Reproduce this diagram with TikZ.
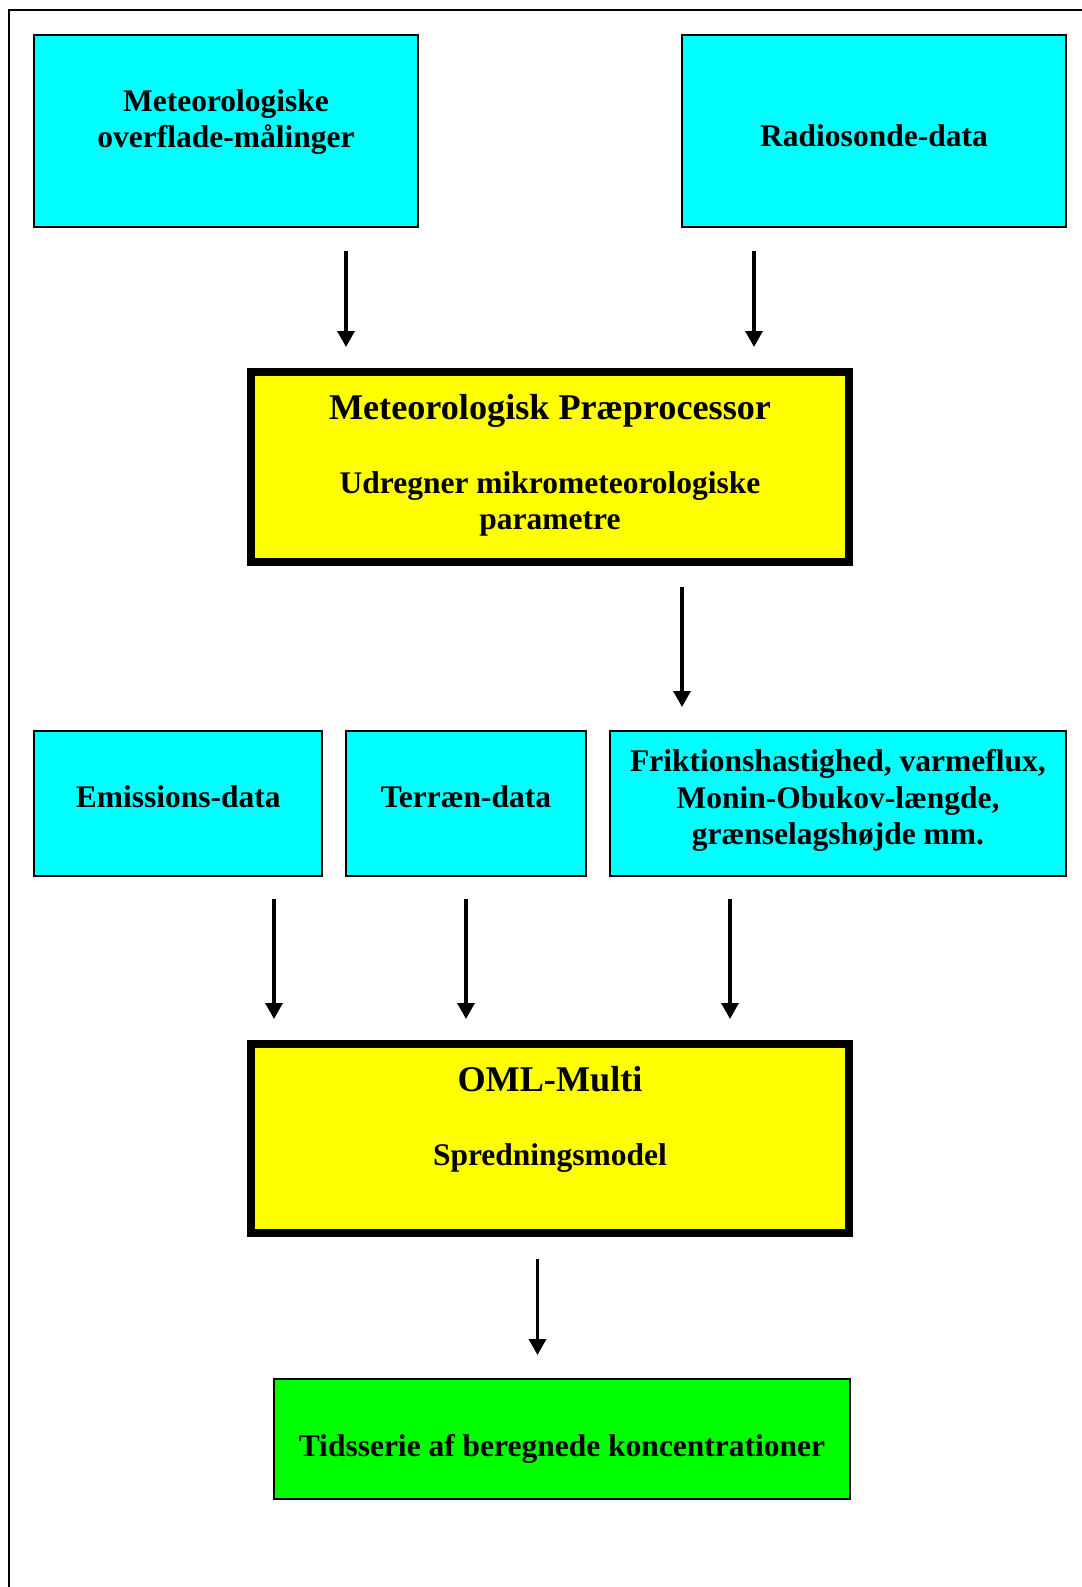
\documentclass[tikz,border=0pt]{standalone}
\usepackage{fontspec}
\setmainfont{Liberation Serif}
\usetikzlibrary{arrows.meta}
\definecolor{cyanbox}{RGB}{0,255,255}
\definecolor{yellowbox}{RGB}{255,255,0}
\definecolor{greenbox}{RGB}{0,255,0}
\tikzset{
  databox/.style={draw=black, line width=1pt, fill=cyanbox, rectangle, inner sep=0pt},
  procbox/.style={draw=black, line width=4pt, fill=yellowbox, rectangle, inner sep=0pt},
  resultbox/.style={draw=black, line width=1pt, fill=greenbox, rectangle, inner sep=0pt},
  lbl/.style={align=center, font=\fontsize{15.75}{18.2}\selectfont\bfseries, inner sep=0pt},
  title/.style={align=center, font=\fontsize{18.1}{21}\selectfont\bfseries, inner sep=0pt},
  flow/.style={line width=1.7pt, -{Triangle[width=8.5pt,length=8pt]}},
  frame/.style={line width=1.2pt}
}
\begin{document}
\begin{tikzpicture}[x=0.5pt,y=-0.5pt]
\useasboundingbox (0,0) rectangle (1082,1587);
% outer frame (left and top edges visible)
\draw[frame] (9,1600) -- (9,10) -- (1100,10);

% top row
\node[databox, minimum width=192pt, minimum height=96pt] (b1) at (226,131) {};
\node[lbl] (t1) at (226,122) {Meteorologiske\\overflade-målinger};
\node[databox, minimum width=192pt, minimum height=96pt] (b2) at (874,131) {};
\node[lbl] (t2) at (874,135.5) {Radiosonde-data};

% preprocessor
\node[procbox, minimum width=299pt, minimum height=95pt] (p1) at (550,467) {};
\node[title] (p1t) at (550,411) {Meteorologisk Præprocessor};
\node[lbl] (p1s) at (550,504) {Udregner mikrometeorologiske\\parametre};

% middle row
\node[databox, minimum width=143.8pt, minimum height=72.5pt] (e1) at (178.2,803.5) {};
\node[lbl] (e1t) at (178.2,797) {Emissions-data};
\node[databox, minimum width=120pt, minimum height=72.5pt] (e2) at (466,803.5) {};
\node[lbl] (e2t) at (466,797) {Terræn-data};
\node[databox, minimum width=228pt, minimum height=72.5pt] (e3) at (838,803.5) {};
\node[lbl] (e3t) at (838,800.5) {Friktionshastighed, varmeflux,\\Monin-Obukov-længde,\\grænselagshøjde mm.};

% dispersion model
\node[procbox, minimum width=299pt, minimum height=94.5pt] (p2) at (550,1138.5) {};
\node[title] (p2t) at (550,1079) {OML-Multi};
\node[lbl] (p2s) at (550,1158) {Spredningsmodel};

% result
\node[resultbox, minimum width=288pt, minimum height=60pt] (r1) at (562,1439) {};
\node[lbl] (r1t) at (562,1449) {Tidsserie af beregnede koncentrationer};

% connector end points
\coordinate (a1s) at (346,251);  \coordinate (a1e) at (346,347);
\coordinate (a2s) at (754,251);  \coordinate (a2e) at (754,347);
\coordinate (a3s) at (682,587);  \coordinate (a3e) at (682,707);
\coordinate (a4s) at (274,899);  \coordinate (a4e) at (274,1019);
\coordinate (a5s) at (466,899);  \coordinate (a5e) at (466,1019);
\coordinate (a6s) at (730,899);  \coordinate (a6e) at (730,1019);
\coordinate (a7s) at (537.5,1259); \coordinate (a7e) at (537.5,1355);

\draw[flow] (a1s) -- (a1e);
\draw[flow] (a2s) -- (a2e);
\draw[flow] (a3s) -- (a3e);
\draw[flow] (a4s) -- (a4e);
\draw[flow] (a5s) -- (a5e);
\draw[flow] (a6s) -- (a6e);
\draw[flow] (a7s) -- (a7e);
\end{tikzpicture}
\end{document}
